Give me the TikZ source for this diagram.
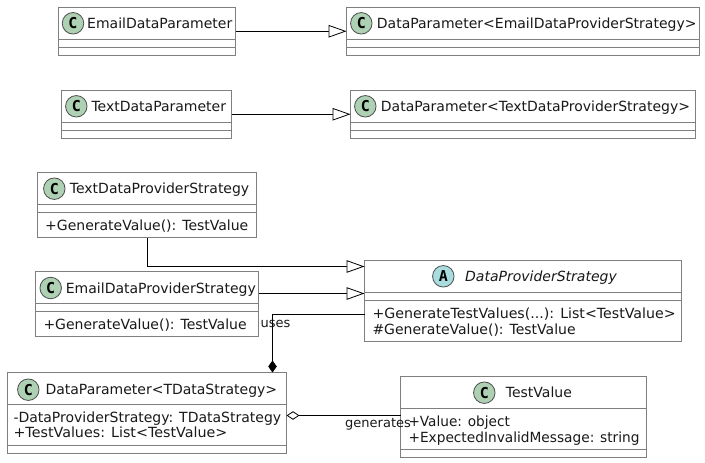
\documentclass[tikz,border=0pt]{standalone}
\usepackage{fontspec}
\usepackage{graphicx}
\setmainfont{DejaVu Sans}
\newfontfamily\badgefont{DejaVu Sans Mono}
\usetikzlibrary{arrows.meta,fit,positioning}
\definecolor{boxgray}{HTML}{7F7F7F}
\definecolor{classgreen}{HTML}{ADD1B2}
\definecolor{abstractblue}{HTML}{A9DCDF}
\tikzset{
  x=1pt,y=-1pt,
  classbox/.style={draw=boxgray,line width=1pt,fill=white,inner sep=0pt,outer sep=0pt},
  divider/.style={draw=boxgray,line width=1pt},
  badge/.style={circle,draw=black!70,line width=0.8pt,minimum size=21.5pt,inner sep=0pt,font=\badgefont\bfseries\fontsize{15}{15}\selectfont},
  cbadge/.style={badge,fill=classgreen},
  abadge/.style={badge,fill=abstractblue},
  titletext/.style={anchor=base west,inner sep=0pt,font=\fontsize{14}{16}\selectfont,text=black!90},
  membertext/.style={anchor=base west,inner sep=0pt,font=\fontsize{14}{16}\selectfont,text=black!90},
  edgelabel/.style={anchor=base west,inner sep=0pt,font=\fontsize{13}{15}\selectfont,text=black!90},
  link/.style={draw=black,line width=1pt},
  inherits/.style={link,-{Triangle[open,fill=white,length=18pt,width=12.5pt,line width=0.8pt]}},
  composes/.style={link,{Diamond[fill=black,length=12pt,width=8.5pt,line width=0.6pt]}-},
  aggregates/.style={link,{Diamond[open,fill=white,length=13pt,width=8.5pt,line width=0.8pt]}-},
}
% name, x1, y1, x2, y2, first divider y, second divider y
\newcommand{\umlbox}[7]{%
  \node[classbox,fit={(#2,#3)(#4,#5)}] (#1) {};
  \draw[divider] (#2,#6) -- (#4,#6);
  \draw[divider] (#2,#7) -- (#4,#7);
}
\begin{document}
\begin{tikzpicture}
\useasboundingbox (0,0) rectangle (705,463);

\umlbox{emailparam}{58.5}{7.5}{235.5}{55}{39.5}{47.5}
\node[cbadge] (emailparamC) at (73,23.3) {C};
\node[titletext] (emailparamT) at (87,28.3) {EmailDataParameter};

\umlbox{dpemail}{346.5}{7.5}{699.5}{55}{39.5}{47.5}
\node[cbadge] (dpemailC) at (361.3,23.3) {C};
\node[titletext] (dpemailT) at (376.7,28.3) {DataParameter<EmailDataProviderStrategy>};

\umlbox{textparam}{61.5}{90.5}{231.5}{138}{122.5}{130.5}
\node[cbadge] (textparamC) at (76.3,106.3) {C};
\node[titletext] (textparamT) at (91.3,111.3) {TextDataParameter};

\umlbox{dptext}{350.5}{90.5}{695.5}{138}{122.5}{130.5}
\node[cbadge] (dptextC) at (365.3,106.3) {C};
\node[titletext] (dptextT) at (380.7,111.3) {DataParameter<TextDataProviderStrategy>};

\umlbox{tdps}{37.5}{172.5}{256.5}{237.5}{204.5}{212.5}
\node[cbadge] (tdpsC) at (54.3,188.7) {C};
\node[titletext] (tdpsT) at (69.7,193.7) {TextDataProviderStrategy};
\node[membertext] (tdpsM) at (45,230) {+GenerateValue(): TestValue};

\umlbox{edps}{35.5}{271.5}{258.5}{336.5}{303.5}{311.5}
\node[cbadge] (edpsC) at (50.7,288) {C};
\node[titletext] (edpsT) at (65.7,293) {EmailDataProviderStrategy};
\node[membertext] (edpsM) at (43.3,329.3) {+GenerateValue(): TestValue};

\umlbox{dps}{364.5}{260.5}{681.5}{341.5}{292.5}{300.5}
\node[abadge] (dpsA) at (443.3,276.3) {A};
\node[titletext,font=\fontsize{14}{16}\selectfont\itshape] (dpsT) at (465,281.3) {DataProviderStrategy};
\node[membertext] (dpsM1) at (372.3,318.3) {\scalebox{1.013}[1]{+GenerateTestValues(...): List<TestValue>}};
\node[membertext] (dpsM2) at (372.3,334.3) {\#GenerateValue(): TestValue};

\umlbox{dpt}{7.5}{372.5}{286.5}{453.5}{404.5}{445.5}
\node[cbadge] (dptC) at (28.3,389.7) {C};
\node[titletext] (dptT) at (45.3,394.7) {DataParameter<TDataStrategy>};
\node[membertext] (dptM1) at (13.3,422.3) {-DataProviderStrategy: TDataStrategy};
\node[membertext] (dptM2) at (13.3,437.7) {\scalebox{1.02}[1]{+TestValues: List<TestValue>}};

\umlbox{tv}{400.5}{376.5}{646.5}{457.5}{408.5}{449.5}
\node[cbadge] (tvC) at (484.3,392.7) {C};
\node[titletext] (tvT) at (505.7,397.7) {TestValue};
\node[membertext] (tvM1) at (408.3,426.7) {\scalebox{0.975}[1]{+Value: object}};
\node[membertext] (tvM2) at (408.3,442.3) {\scalebox{0.98}[1]{+ExpectedInvalidMessage: string}};

\draw[inherits] (emailparam.east) -- (dpemail.west);
\draw[inherits] (textparam.east) -- (dptext.west);
\draw[inherits] (tdps.south) |- ([yshift=34.5pt]dps.west);
\draw[inherits] ([yshift=10.5pt]edps.east) -- ([yshift=7.5pt]dps.west);
\draw[composes] ([xshift=125.5pt]dpt.north) |- ([yshift=-13.5pt]dps.west);
\draw[aggregates] ([yshift=-2.5pt]dpt.east) -- ([yshift=1.5pt]tv.west);

\node[edgelabel] (usesL) at (260.5,327.7) {uses};
\node[edgelabel] (genL) at (345,427.7) {generates};
\end{tikzpicture}
\end{document}
